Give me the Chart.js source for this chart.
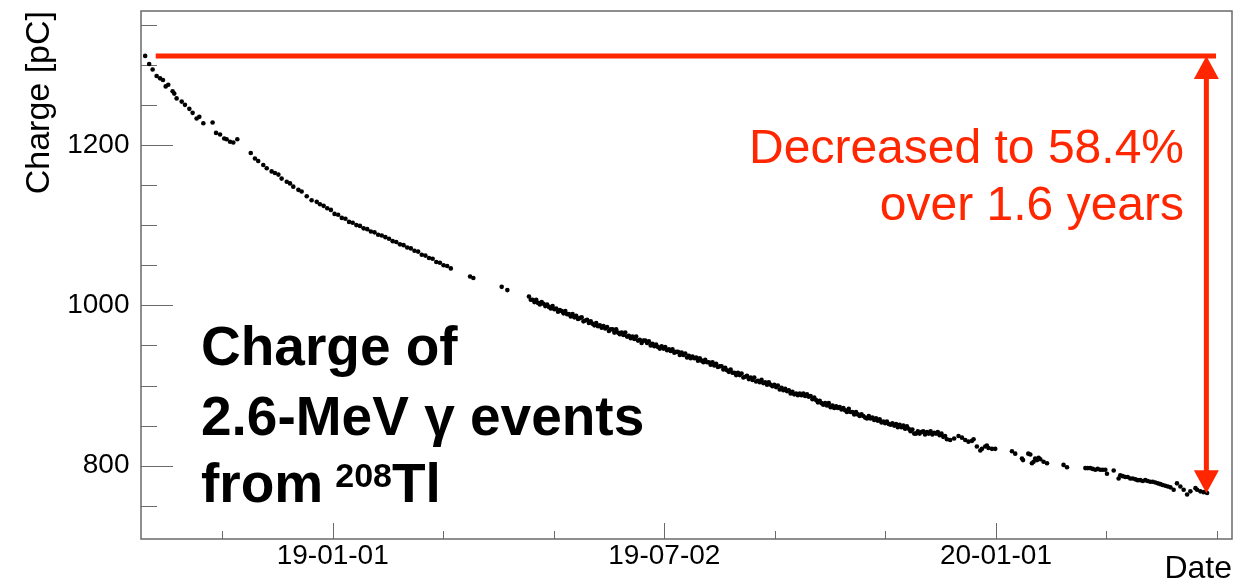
<!DOCTYPE html>
<html>
<head>
<meta charset="utf-8">
<script src="https://cdn.jsdelivr.net/npm/chart.js@4/dist/chart.umd.min.js"></script>
<style>
  html, body { margin: 0; padding: 0; background: #ffffff; }
  #wrap { width: 1256px; height: 583px; }
</style>
</head>
<body>
<div id="wrap"><canvas id="chart" width="1256" height="583"></canvas></div>
<script>
// Days counted from 2019-01-01 (negative = late 2018)
const days = [
  -103.2, -101.0, -99.1, -96.9, -95.0, -93.4, -91.9, -90.5, -88.1, -87.2, -85.9, -83.1, -81.3,
  -78.9, -77.1, -74.9, -73.4, -71.2, -66.1, -64.2, -62.0, -59.7, -58.4, -56.5, -54.7, -52.5,
  -45.1, -42.8, -41.0, -38.2, -36.3, -33.6, -31.8, -29.9, -28.1, -25.3, -23.5, -21.7, -18.9,
  -17.1, -14.3, -11.6, -8.8, -7.0, -5.0, -3.0, -1.0, 1.0, 3.0, 5.0, 7.0, 9.0, 11.0, 13.0, 15.0,
  17.0, 19.0, 21.0, 23.0, 25.0, 27.0, 29.0, 31.0, 33.0, 35.0, 37.0, 39.0, 41.0, 43.0, 45.0,
  47.0, 49.0, 51.0, 53.0, 55.0, 57.0, 59.0, 61.0, 63.0, 65.0,
  75.6, 77.4, 93.0, 96.1,
  108, 109, 110, 111, 112, 113, 114, 115, 116, 117, 118, 119, 120, 121, 122, 123, 124, 125,
  126, 127, 128, 129, 130, 131, 132, 133, 134, 135, 136, 137, 138, 139, 140, 141, 142, 143,
  144, 145, 146, 147, 148, 149, 150, 151, 152, 153, 154, 155, 156, 157, 158, 159, 160, 161,
  162, 163, 164, 165, 166, 167, 168, 169, 170, 171, 172, 173, 174, 175, 176, 177, 178, 179,
  180, 181, 182, 183, 184, 185, 186, 187, 188, 189, 190, 191, 192, 193, 194, 195, 196, 197,
  198, 199, 200, 201, 202, 203, 204, 205, 206, 207, 208, 209, 210, 211, 212, 213, 214, 215,
  216, 217, 218, 219, 220, 221, 222, 223, 224, 225, 226, 227, 228, 229, 230, 231, 232, 233,
  234, 235, 236, 237, 238, 239, 240, 241, 242, 243, 244, 245, 246, 247, 248, 249, 250, 251,
  252, 253, 254, 255, 256, 257, 258, 259, 260, 261, 262, 263, 264, 265, 266, 267, 268, 269,
  270, 271, 272, 273, 274, 275, 276, 277, 278, 279, 280, 281, 282, 283, 284, 285, 286, 287,
  288, 289, 290, 291, 292, 293, 294, 295, 296, 297, 298, 299, 300, 301, 302, 303, 304, 305,
  306, 307, 308, 309, 310, 311, 312, 313, 314, 315, 316, 317, 318, 319, 320, 321, 322, 323,
  324, 325, 326, 327, 328, 329, 330, 331, 332, 333, 334, 335, 336, 337, 338,
  339.8, 342.0, 344.4, 346.3, 348.1, 349.9, 351.8, 352.7, 354.5, 356.4, 357.3, 359.1, 360.0,
  360.9, 362.8, 364.6,
  373.8, 375.6, 379.3, 379.9, 382.8, 383.9, 384.8, 385.7, 386.6, 387.6, 388.5, 389.4, 391.2,
  393.1, 402.2, 404.1,
  414.2, 415.5, 416.9, 418.3, 419.7, 421.0, 422.4, 423.8, 425.2, 426.1, 429.8, 432.5, 433.4,
  434.8, 436.2, 437.5, 438.9, 440.3, 441.7, 443.0, 444.4, 445.8, 447.2, 448.5, 449.9, 451.3,
  452.7, 454.1, 455.5, 456.8, 458.2, 459.6, 461.0, 462.8, 464.6, 466.5, 468.3, 470.2, 472.0,
  474.8, 475.7, 477.5, 479.3, 481.2
];

// Mean charge of the 2.6-MeV peak [pC]
const charge = [
  1311, 1301, 1294, 1286, 1283, 1281, 1273, 1275, 1267, 1264, 1258, 1254, 1250,
  1245, 1240, 1233, 1235, 1227, 1228, 1215, 1213, 1208, 1207, 1204, 1203, 1207,
  1190, 1183, 1180, 1175, 1171, 1167, 1165, 1163, 1158, 1154, 1152, 1148, 1144,
  1142, 1136, 1131, 1129, 1126, 1124, 1121, 1119, 1114, 1113, 1109, 1108, 1104, 1103, 1100, 1099,
  1096, 1095, 1092, 1091, 1088, 1087, 1085, 1083, 1080, 1079, 1076, 1075, 1072, 1071, 1068,
  1067, 1063, 1062, 1059, 1058, 1054, 1053, 1050, 1049, 1046,
  1036, 1034, 1023, 1019,
  1011, 1007, 1007, 1004, 1007, 1003, 1001, 1004, 1002, 999, 1001, 998, 996, 999, 995, 996, 992, 994,
  993, 990, 993, 989, 989, 986, 989, 985, 987, 983, 984, 985, 980, 981, 982, 978, 980, 977,
  975, 978, 974, 975, 972, 974, 971, 973, 968, 970, 970, 966, 970, 966, 964, 966, 963, 966,
  961, 962, 959, 961, 958, 961, 956, 957, 953, 956, 956, 953, 955, 950, 952, 949, 951, 948,
  946, 949, 946, 948, 944, 945, 943, 945, 941, 942, 942, 938, 941, 938, 940, 935, 937, 934,
  936, 934, 935, 931, 934, 931, 929, 932, 929, 929, 926, 929, 925, 927, 923, 924, 924, 920,
  922, 919, 917, 920, 916, 916, 913, 916, 913, 915, 910, 911, 912, 908, 910, 907, 910, 905,
  906, 904, 907, 903, 904, 901, 904, 901, 899, 901, 898, 900, 895, 897, 894, 896, 893, 894,
  890, 892, 889, 890, 888, 890, 888, 890, 887, 889, 886, 887, 883, 885, 882, 879, 881, 878,
  876, 878, 875, 878, 873, 875, 872, 874, 872, 873, 870, 872, 869, 867, 871, 867, 867, 864,
  867, 864, 862, 864, 862, 860, 859, 862, 859, 860, 857, 859, 856, 858, 854, 855, 853, 855,
  852, 851, 853, 850, 852, 848, 851, 848, 850, 846, 849, 846, 843, 845, 840, 840, 843, 840,
  842, 843, 839, 842, 840, 843, 839, 841, 840, 842, 838, 840, 836, 837, 833,
  832, 834, 837, 835, 832, 830, 831, 833, 824, 819, 821, 824, 825,
  822, 821, 821,
  818, 815, 809, 807, 815, 814, 803, 805, 809, 807, 810, 808, 805,
  803, 801, 798,
  797, 797, 797, 796, 795, 796, 795, 795, 795, 790, 794, 784, 788,
  787, 786, 786, 784, 784, 783, 782, 782, 781, 782, 781, 780, 780,
  779, 778, 777, 776, 775, 774, 773, 770, 778, 774, 770, 764, 768,
  772, 770, 768, 767, 766
];

// Axis ranges (days / pC)
const xRange = [-105.5, 494.9];
const yRange = [708.6, 1367.0];

// Time-axis ticks: labelled divisions every half year, three subdivisions each
const xMajorDays = [0, 182.5, 365];
const xTickLabels = ['19-01-01', '19-07-02', '20-01-01'];
const xDivisions = 3;

// Charge-axis ticks
const yMajorValues = [800, 1000, 1200];
const yTickLabels = ['800', '1000', '1200'];
const yMinorStep = 50;

// Annotation: drop from the first measurement to the retained fraction
const retainedPercent = 58.4;
const elapsedYears = 1.6;
const refLineDays = [-97.4, 486.1];
const arrowDay = 480.8;

const FONT = '"Liberation Sans", Arial, Helvetica, sans-serif';
const RED = '#ff2600';
const FRAME = '#6a6a6a';

const xStep = (xMajorDays[1] - xMajorDays[0]) / xDivisions;
const xTickValues = [];
for (let k = Math.ceil((xRange[0] - xMajorDays[0]) / xStep); xMajorDays[0] + k * xStep <= xRange[1]; k++) {
  xTickValues.push(xMajorDays[0] + k * xStep);
}
const yTickValues = [];
for (let v = Math.ceil(yRange[0] / yMinorStep) * yMinorStep; v <= yRange[1]; v += yMinorStep) {
  yTickValues.push(v);
}
const near = (a, b) => Math.abs(a - b) < 1e-6;
const xMajorIndex = v => xMajorDays.findIndex(m => near(m, v));
const yMajorIndex = v => yMajorValues.findIndex(m => near(m, v));

const points = days.map((d, i) => ({ x: d, y: charge[i] }));

// Frame box and inward tick marks
const frameTicks = {
  id: 'frameTicks',
  beforeDatasetsDraw(chart) {
    const { ctx, chartArea: a, scales: { x, y } } = chart;
    ctx.save();
    ctx.strokeStyle = FRAME;
    ctx.lineWidth = 1;
    ctx.beginPath();
    x.ticks.forEach(t => {
      const px = Math.round(x.getPixelForValue(t.value)) + 0.5;
      const len = xMajorIndex(t.value) >= 0 ? 16 : 8;
      ctx.moveTo(px, a.bottom);
      ctx.lineTo(px, a.bottom - len);
    });
    y.ticks.forEach(t => {
      const py = Math.round(y.getPixelForValue(t.value)) + 0.5;
      const len = yMajorIndex(t.value) >= 0 ? 32 : 16;
      ctx.moveTo(a.left, py);
      ctx.lineTo(a.left + len, py);
    });
    ctx.stroke();
    ctx.lineWidth = 1.5;
    ctx.strokeRect(a.left, a.top, a.right - a.left, a.bottom - a.top);
    ctx.restore();
  }
};

// Reference level, double arrow and captions
const annotations = {
  id: 'annotations',
  afterDatasetsDraw(chart) {
    const { ctx, scales: { x, y } } = chart;
    const startCharge = charge[0];
    const endCharge = startCharge * retainedPercent / 100;
    const yTop = y.getPixelForValue(startCharge);
    const yBot = y.getPixelForValue(endCharge);
    const xa = x.getPixelForValue(arrowDay);
    const headW = 25, headH = 23;

    ctx.save();
    ctx.strokeStyle = RED;
    ctx.fillStyle = RED;
    ctx.lineWidth = 5;
    ctx.beginPath();
    ctx.moveTo(x.getPixelForValue(refLineDays[0]), yTop);
    ctx.lineTo(x.getPixelForValue(refLineDays[1]), yTop);
    ctx.moveTo(xa, yTop + headH - 1);
    ctx.lineTo(xa, yBot - headH + 1);
    ctx.stroke();

    ctx.beginPath();
    ctx.moveTo(xa, yTop);
    ctx.lineTo(xa - headW / 2, yTop + headH);
    ctx.lineTo(xa + headW / 2, yTop + headH);
    ctx.closePath();
    ctx.moveTo(xa, yBot);
    ctx.lineTo(xa - headW / 2, yBot - headH);
    ctx.lineTo(xa + headW / 2, yBot - headH);
    ctx.closePath();
    ctx.fill();

    ctx.textBaseline = 'alphabetic';
    ctx.textAlign = 'right';
    ctx.font = `48px ${FONT}`;
    ctx.fillText(`Decreased to ${retainedPercent}%`, 1184, 163);
    ctx.fillText(`over ${elapsedYears} years`, 1184, 220);

    ctx.fillStyle = '#000000';
    ctx.textAlign = 'left';
    const big = `bold 55px ${FONT}`;
    ctx.font = big;
    ctx.fillText('Charge of', 201, 365);
    ctx.fillText('2.6-MeV \u03b3 events', 201, 435);
    let tx = 201;
    ctx.fillText('from', tx, 502);
    tx += ctx.measureText('from').width + 12;
    ctx.font = `bold 34px ${FONT}`;
    ctx.fillText('208', tx, 487);
    tx += ctx.measureText('208').width;
    ctx.font = big;
    ctx.fillText('Tl', tx, 502);
    ctx.restore();
  }
};

new Chart(document.getElementById('chart'), {
  type: 'scatter',
  data: {
    datasets: [{
      data: points,
      pointRadius: 2.3,
      pointHoverRadius: 2.3,
      pointBackgroundColor: '#000000',
      pointBorderWidth: 0,
      showLine: false
    }]
  },
  options: {
    responsive: false,
    devicePixelRatio: 1,
    animation: false,
    events: [],
    layout: { padding: { top: 11, right: 24, left: 0, bottom: 0 } },
    plugins: { legend: { display: false }, tooltip: { enabled: false } },
    scales: {
      x: {
        type: 'linear',
        position: 'bottom',
        min: xRange[0],
        max: xRange[1],
        afterBuildTicks: s => { s.ticks = xTickValues.map(v => ({ value: v })); },
        afterFit: s => { s.height = 44; s.paddingLeft = 0; s.paddingRight = 0; },
        grid: { display: false, drawTicks: false },
        border: { display: false },
        ticks: {
          autoSkip: false,
          maxRotation: 0,
          minRotation: 0,
          padding: 0,
          color: '#000000',
          font: { family: FONT, size: 28 },
          callback: v => { const i = xMajorIndex(v); return i >= 0 ? xTickLabels[i] : ''; }
        },
        title: {
          display: true,
          text: 'Date',
          align: 'end',
          color: '#000000',
          font: { family: FONT, size: 32, lineHeight: 0.88 },
          padding: 0
        }
      },
      y: {
        type: 'linear',
        position: 'left',
        min: yRange[0],
        max: yRange[1],
        afterBuildTicks: s => { s.ticks = yTickValues.map(v => ({ value: v })); },
        afterFit: s => { s.width = 141; s.paddingTop = 0; s.paddingBottom = 0; },
        grid: { display: false, drawTicks: false },
        border: { display: false },
        ticks: {
          autoSkip: false,
          padding: 11.5,
          color: '#000000',
          font: { family: FONT, size: 28 },
          callback: v => { const i = yMajorIndex(v); return i >= 0 ? yTickLabels[i] : ''; }
        },
        title: {
          display: true,
          text: 'Charge [pC]',
          align: 'end',
          color: '#000000',
          font: { family: FONT, size: 34 },
          padding: { top: 19, bottom: 0 }
        }
      }
    }
  },
  plugins: [frameTicks, annotations]
});
</script>
</body>
</html>
